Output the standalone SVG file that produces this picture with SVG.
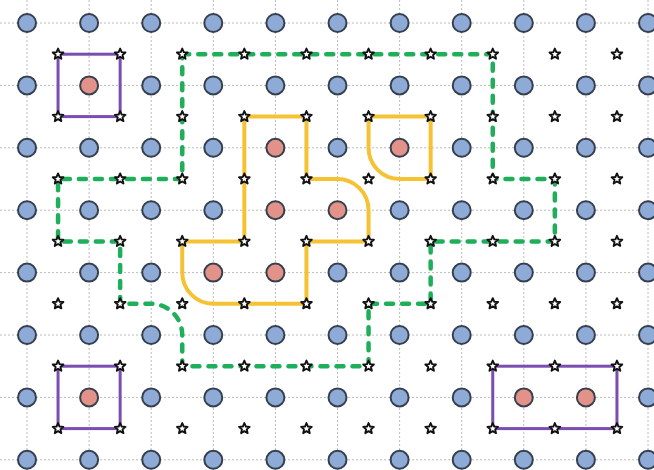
<svg xmlns="http://www.w3.org/2000/svg" xmlns:xlink="http://www.w3.org/1999/xlink" width="654" height="470" viewBox="0 0 654 470">
<style>
.grid line{stroke:#bcbcbc;stroke-width:1;stroke-dasharray:2 2}
.cb{fill:#8eaad6;stroke:#363f4e;stroke-width:2}
.cp{fill:#e3928a;stroke:#363f4e;stroke-width:2}
.purple{fill:none;stroke:#7a4db0;stroke-width:3}
.yellow{fill:none;stroke:#f5c233;stroke-width:4;stroke-linejoin:round}
.green{fill:none;stroke:#1fae5a;stroke-width:4.5;stroke-dasharray:7 9;stroke-linecap:round}
.star{fill:#fff;stroke:#111;stroke-width:1.9;stroke-linejoin:round}
</style>
<defs>
<circle id="cbl" r="9" class="cb"/>
<circle id="cpk" r="9" class="cp"/>
<path id="st" class="star" d="M0,-5.6 L1.5,-2.06 L5.33,-1.73 L2.4,0.78 L3.29,4.53 L0,2.55 L-3.29,4.53 L-2.4,0.78 L-5.33,-1.73 L-1.5,-2.06 Z"/>
</defs>
<rect width="654" height="470" fill="#fff"/>
<g id="grid" class="grid">
<line x1="0" y1="23" x2="654" y2="23"/>
<line x1="0" y1="85.4" x2="654" y2="85.4"/>
<line x1="0" y1="147.8" x2="654" y2="147.8"/>
<line x1="0" y1="210.2" x2="654" y2="210.2"/>
<line x1="0" y1="272.6" x2="654" y2="272.6"/>
<line x1="0" y1="335" x2="654" y2="335"/>
<line x1="0" y1="397.4" x2="654" y2="397.4"/>
<line x1="0" y1="459.8" x2="654" y2="459.8"/>
<line x1="27" y1="0" x2="27" y2="470"/>
<line x1="89.1" y1="0" x2="89.1" y2="470"/>
<line x1="151.2" y1="0" x2="151.2" y2="470"/>
<line x1="213.3" y1="0" x2="213.3" y2="470"/>
<line x1="275.4" y1="0" x2="275.4" y2="470"/>
<line x1="337.5" y1="0" x2="337.5" y2="470"/>
<line x1="399.6" y1="0" x2="399.6" y2="470"/>
<line x1="461.7" y1="0" x2="461.7" y2="470"/>
<line x1="523.8" y1="0" x2="523.8" y2="470"/>
<line x1="585.9" y1="0" x2="585.9" y2="470"/>
<line x1="648" y1="0" x2="648" y2="470"/>
</g>
<g id="connectors">
<rect id="box-top-left" class="purple" x="58.05" y="54.2" width="62.1" height="62.4"/>
<rect id="box-bottom-left" class="purple" x="58.05" y="366.2" width="62.1" height="62.4"/>
<rect id="box-bottom-right" class="purple" x="492.75" y="366.2" width="124.2" height="62.4"/>
<path id="yellow-1" class="yellow" d="M244.35,116.6 H306.45 V179 H337.5 A31.05,31.2 0 0 1 368.55,210.2 V241.4 H306.45 V303.8 H213.3 A31.05,31.2 0 0 1 182.25,272.6 V241.4 H244.35 Z"/>
<path id="yellow-2" class="yellow" d="M368.55,116.6 H430.65 V179 H399.6 A31.05,31.2 0 0 1 368.55,147.8 Z"/>
<path id="green" class="green" d="M182.25,54.2 H492.75 V179 H554.85 V241.4 H430.65 V303.8 H368.55 V366.2 H182.25 V335 A31.05,31.2 0 0 0 151.2,303.8 H120.15 V241.4 H58.05 V179 H182.25 Z"/>
</g>
<g id="circles">
<g id="row0">
<use href="#cbl" x="27" y="23"/><use href="#cbl" x="89.1" y="23"/><use href="#cbl" x="151.2" y="23"/><use href="#cbl" x="213.3" y="23"/><use href="#cbl" x="275.4" y="23"/><use href="#cbl" x="337.5" y="23"/><use href="#cbl" x="399.6" y="23"/><use href="#cbl" x="461.7" y="23"/><use href="#cbl" x="523.8" y="23"/><use href="#cbl" x="585.9" y="23"/><use href="#cbl" x="648" y="23"/>
</g>
<g id="row1">
<use href="#cbl" x="27" y="85.4"/><use href="#cpk" x="89.1" y="85.4"/><use href="#cbl" x="151.2" y="85.4"/><use href="#cbl" x="213.3" y="85.4"/><use href="#cbl" x="275.4" y="85.4"/><use href="#cbl" x="337.5" y="85.4"/><use href="#cbl" x="399.6" y="85.4"/><use href="#cbl" x="461.7" y="85.4"/><use href="#cbl" x="523.8" y="85.4"/><use href="#cbl" x="585.9" y="85.4"/><use href="#cbl" x="648" y="85.4"/>
</g>
<g id="row2">
<use href="#cbl" x="27" y="147.8"/><use href="#cbl" x="89.1" y="147.8"/><use href="#cbl" x="151.2" y="147.8"/><use href="#cbl" x="213.3" y="147.8"/><use href="#cpk" x="275.4" y="147.8"/><use href="#cbl" x="337.5" y="147.8"/><use href="#cpk" x="399.6" y="147.8"/><use href="#cbl" x="461.7" y="147.8"/><use href="#cbl" x="523.8" y="147.8"/><use href="#cbl" x="585.9" y="147.8"/><use href="#cbl" x="648" y="147.8"/>
</g>
<g id="row3">
<use href="#cbl" x="27" y="210.2"/><use href="#cbl" x="89.1" y="210.2"/><use href="#cbl" x="151.2" y="210.2"/><use href="#cbl" x="213.3" y="210.2"/><use href="#cpk" x="275.4" y="210.2"/><use href="#cpk" x="337.5" y="210.2"/><use href="#cbl" x="399.6" y="210.2"/><use href="#cbl" x="461.7" y="210.2"/><use href="#cbl" x="523.8" y="210.2"/><use href="#cbl" x="585.9" y="210.2"/><use href="#cbl" x="648" y="210.2"/>
</g>
<g id="row4">
<use href="#cbl" x="27" y="272.6"/><use href="#cbl" x="89.1" y="272.6"/><use href="#cbl" x="151.2" y="272.6"/><use href="#cpk" x="213.3" y="272.6"/><use href="#cpk" x="275.4" y="272.6"/><use href="#cbl" x="337.5" y="272.6"/><use href="#cbl" x="399.6" y="272.6"/><use href="#cbl" x="461.7" y="272.6"/><use href="#cbl" x="523.8" y="272.6"/><use href="#cbl" x="585.9" y="272.6"/><use href="#cbl" x="648" y="272.6"/>
</g>
<g id="row5">
<use href="#cbl" x="27" y="335"/><use href="#cbl" x="89.1" y="335"/><use href="#cbl" x="151.2" y="335"/><use href="#cbl" x="213.3" y="335"/><use href="#cbl" x="275.4" y="335"/><use href="#cbl" x="337.5" y="335"/><use href="#cbl" x="399.6" y="335"/><use href="#cbl" x="461.7" y="335"/><use href="#cbl" x="523.8" y="335"/><use href="#cbl" x="585.9" y="335"/><use href="#cbl" x="648" y="335"/>
</g>
<g id="row6">
<use href="#cbl" x="27" y="397.4"/><use href="#cpk" x="89.1" y="397.4"/><use href="#cbl" x="151.2" y="397.4"/><use href="#cbl" x="213.3" y="397.4"/><use href="#cbl" x="275.4" y="397.4"/><use href="#cbl" x="337.5" y="397.4"/><use href="#cbl" x="399.6" y="397.4"/><use href="#cbl" x="461.7" y="397.4"/><use href="#cpk" x="523.8" y="397.4"/><use href="#cpk" x="585.9" y="397.4"/><use href="#cbl" x="648" y="397.4"/>
</g>
<g id="row7">
<use href="#cbl" x="27" y="459.8"/><use href="#cbl" x="89.1" y="459.8"/><use href="#cbl" x="151.2" y="459.8"/><use href="#cbl" x="213.3" y="459.8"/><use href="#cbl" x="275.4" y="459.8"/><use href="#cbl" x="337.5" y="459.8"/><use href="#cbl" x="399.6" y="459.8"/><use href="#cbl" x="461.7" y="459.8"/><use href="#cbl" x="523.8" y="459.8"/><use href="#cbl" x="585.9" y="459.8"/><use href="#cbl" x="648" y="459.8"/>
</g>
</g>
<g id="stars">
<g id="srow0"><use href="#st" x="58.05" y="54.2"/><use href="#st" x="120.15" y="54.2"/><use href="#st" x="182.25" y="54.2"/><use href="#st" x="244.35" y="54.2"/><use href="#st" x="306.45" y="54.2"/><use href="#st" x="368.55" y="54.2"/><use href="#st" x="430.65" y="54.2"/><use href="#st" x="492.75" y="54.2"/><use href="#st" x="554.85" y="54.2"/><use href="#st" x="616.95" y="54.2"/></g>
<g id="srow1"><use href="#st" x="58.05" y="116.6"/><use href="#st" x="120.15" y="116.6"/><use href="#st" x="182.25" y="116.6"/><use href="#st" x="244.35" y="116.6"/><use href="#st" x="306.45" y="116.6"/><use href="#st" x="368.55" y="116.6"/><use href="#st" x="430.65" y="116.6"/><use href="#st" x="492.75" y="116.6"/><use href="#st" x="554.85" y="116.6"/><use href="#st" x="616.95" y="116.6"/></g>
<g id="srow2"><use href="#st" x="58.05" y="179"/><use href="#st" x="120.15" y="179"/><use href="#st" x="182.25" y="179"/><use href="#st" x="244.35" y="179"/><use href="#st" x="306.45" y="179"/><use href="#st" x="368.55" y="179"/><use href="#st" x="430.65" y="179"/><use href="#st" x="492.75" y="179"/><use href="#st" x="554.85" y="179"/><use href="#st" x="616.95" y="179"/></g>
<g id="srow3"><use href="#st" x="58.05" y="241.4"/><use href="#st" x="120.15" y="241.4"/><use href="#st" x="182.25" y="241.4"/><use href="#st" x="244.35" y="241.4"/><use href="#st" x="306.45" y="241.4"/><use href="#st" x="368.55" y="241.4"/><use href="#st" x="430.65" y="241.4"/><use href="#st" x="492.75" y="241.4"/><use href="#st" x="554.85" y="241.4"/><use href="#st" x="616.95" y="241.4"/></g>
<g id="srow4"><use href="#st" x="58.05" y="303.8"/><use href="#st" x="120.15" y="303.8"/><use href="#st" x="182.25" y="303.8"/><use href="#st" x="244.35" y="303.8"/><use href="#st" x="306.45" y="303.8"/><use href="#st" x="368.55" y="303.8"/><use href="#st" x="430.65" y="303.8"/><use href="#st" x="492.75" y="303.8"/><use href="#st" x="554.85" y="303.8"/><use href="#st" x="616.95" y="303.8"/></g>
<g id="srow5"><use href="#st" x="58.05" y="366.2"/><use href="#st" x="120.15" y="366.2"/><use href="#st" x="182.25" y="366.2"/><use href="#st" x="244.35" y="366.2"/><use href="#st" x="306.45" y="366.2"/><use href="#st" x="368.55" y="366.2"/><use href="#st" x="430.65" y="366.2"/><use href="#st" x="492.75" y="366.2"/><use href="#st" x="554.85" y="366.2"/><use href="#st" x="616.95" y="366.2"/></g>
<g id="srow6"><use href="#st" x="58.05" y="428.6"/><use href="#st" x="120.15" y="428.6"/><use href="#st" x="182.25" y="428.6"/><use href="#st" x="244.35" y="428.6"/><use href="#st" x="306.45" y="428.6"/><use href="#st" x="368.55" y="428.6"/><use href="#st" x="430.65" y="428.6"/><use href="#st" x="492.75" y="428.6"/><use href="#st" x="554.85" y="428.6"/><use href="#st" x="616.95" y="428.6"/></g>
</g>
</svg>
